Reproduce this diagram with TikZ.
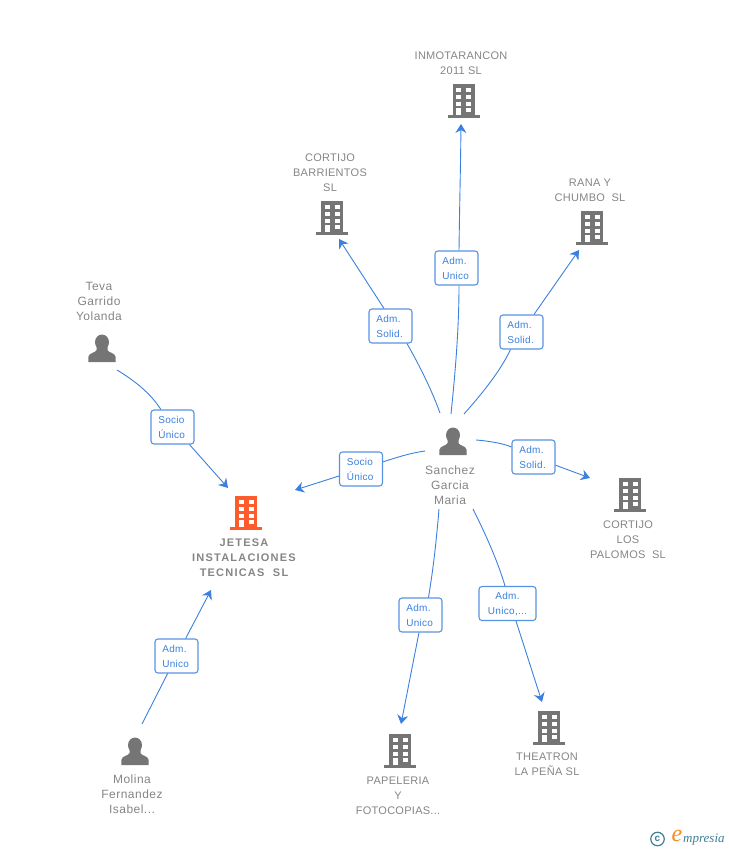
\documentclass[tikz,border=0pt]{standalone}
\usepackage{fontspec}
\setmainfont{Liberation Sans}
\newfontfamily\logofont{Liberation Serif}
\usepackage{tikz}
\usetikzlibrary{arrows.meta}
\definecolor{linkblue}{HTML}{3B80DE}
\definecolor{labelgray}{HTML}{858585}
\definecolor{iconorange}{HTML}{FF5C2E}
\definecolor{icongray}{HTML}{757575}
\definecolor{logoteal}{HTML}{3F7F96}
\definecolor{logoorange}{HTML}{F58A1F}
\tikzset{
    building/.pic = {
        \fill[pic actions] (-11,0) rectangle (11,32);
        \fill[pic actions] (-16,31) rectangle (16,34);
        \foreach \wy in {4.3,11,17.7} {
            \fill[white] (-7.5,\wy) rectangle (-2.5,\wy+3.9);
            \fill[white] (2.5,\wy) rectangle (7.5,\wy+3.9);
        }
        \fill[white] (-7.5,24.3) rectangle (-2.5,31);
        \fill[white] (2.5,24.3) rectangle (7.5,28.2);
    },
    person/.pic = {
        \fill[pic actions] (0,7.2) ellipse (7 and 7.7);
        \fill[pic actions] (-5.5,11) -- (-5.5,15) .. controls (-6.5,18) and (-13,17.5) .. (-13.7,22)
            -- (-13.7,27) -- (13.7,27) -- (13.7,22) .. controls (13,17.5) and (6.5,18) .. (5.5,15)
            -- (5.5,11) -- cycle;
    }
}
\begin{document}
\begin{tikzpicture}[x=1pt, y=-1pt,
        company/.style = {align=center, inner sep=0pt, text=labelgray,
                          font=\addfontfeature{LetterSpace=2.5}\fontsize{11}{15}\selectfont},
        mainco/.style = {company, font=\bfseries\addfontfeature{LetterSpace=11}\fontsize{11}{15}\selectfont},
        people/.style = {align=center, inner sep=0pt, text=labelgray,
                         font=\addfontfeature{LetterSpace=4}\fontsize{12}{15}\selectfont},
        role/.style = {shape=rectangle, rounded corners=3pt, draw=linkblue!85!white, line width=1.1pt,
                       fill=white, align=left, text width=28.4pt, inner sep=0pt, text=linkblue,
                       minimum width=43pt, minimum height=34pt, text height=8.7pt,
                       font=\addfontfeature{LetterSpace=3}\fontsize{10}{15}\selectfont},
        link/.style = {draw=linkblue, line width=0.9pt},
        linkto/.style = {link, -{Stealth[length=9pt, width=11pt, inset=3pt]}}]
    \useasboundingbox (0,0) rectangle (728,850);

    % companies
    \pic[fill=icongray] at (463.5,84) {building};
    \pic[fill=icongray] at (332,201) {building};
    \pic[fill=icongray] at (592,211) {building};
    \pic[fill=icongray] at (630,478) {building};
    \pic[fill=icongray] at (549,711) {building};
    \pic[fill=icongray] at (400,734) {building};
    \pic[fill=iconorange] at (246,496) {building};

    % people
    \pic[fill=icongray] at (102,335) {person};
    \pic[fill=icongray] at (453,428) {person};
    \pic[fill=icongray] at (135,738) {person};

    \node[company] (inmotarancon) at (461,63) {INMOTARANCON\\2011 SL};
    \node[company] (barrientos) at (330,172.5) {CORTIJO\\BARRIENTOS\\SL};
    \node[company] (rana) at (590,190) {RANA Y\\CHUMBO\ \ SL};
    \node[company] (palomos) at (628,539.5) {CORTIJO\\LOS\\PALOMOS\ \ SL};
    \node[company] (theatron) at (547,764) {THEATRON\\LA PEÑA SL};
    \node[company] (papeleria) at (398,795.5) {PAPELERIA\\Y\\FOTOCOPIAS...};
    \node[mainco] (jetesa) at (244,557.5) {JETESA\\INSTALACIONES\\TECNICAS\ \ SL};
    \node[people] (teva) at (99,301) {Teva\\Garrido\\Yolanda};
    \node[people] (sanchez) at (450,485) {Sanchez\\Garcia\\Maria};
    \node[people] (molina) at (132,794) {Molina\\Fernandez\\Isabel...};

    \node[role] (roleteva) at (172.5,427) {Socio\\Único};
    \node[role] (rolejetesa) at (361,469) {Socio\\Único};
    \node[role] (roleinmo) at (456.5,268) {Adm.\\Unico};
    \node[role] (rolebarr) at (390.5,326) {Adm.\\Solid.};
    \node[role] (rolerana) at (521.5,332) {Adm.\\Solid.};
    \node[role] (rolepalo) at (533.5,457) {Adm.\\Solid.};
    \node[role] (rolepape) at (420.5,615) {Adm.\\Unico};
    \node[role, minimum width=57pt, text width=41pt, align=center] (rolethea) at (507.5,603.5) {Adm.\\Unico,...};
    \node[role] (rolemoli) at (176.5,656) {Adm.\\Unico};

    % free ends of the links
    \coordinate (fromteva) at (117,370);
    \coordinate (tojetesaa) at (228,488);
    \coordinate (fromsana) at (425,451);
    \coordinate (tojetesab) at (295,490);
    \coordinate (fromsanb) at (451,414);
    \coordinate (toinmo) at (461,124);
    \coordinate (fromsanc) at (440,413);
    \coordinate (tobarr) at (339,239);
    \coordinate (fromsand) at (464,414);
    \coordinate (torana) at (579,250);
    \coordinate (fromsane) at (476,440);
    \coordinate (topalo) at (590,478);
    \coordinate (fromsanf) at (439,509);
    \coordinate (topape) at (401,724);
    \coordinate (fromsang) at (473,509);
    \coordinate (tothea) at (542,702);
    \coordinate (frommoli) at (142,724);
    \coordinate (tojetesac) at (211,590);

    \draw[link] (fromteva) .. controls (140,384) and (152,396) .. (roleteva);
    \draw[linkto] ([xshift=17pt]roleteva.south) -- (tojetesaa);
    \draw[link] (fromsana) .. controls (410,453) and (395,458) .. (rolejetesa);
    \draw[linkto] (rolejetesa) -- (tojetesab);
    \draw[link] (fromsanb) .. controls (455,375) and (459,330) .. ([xshift=2.5pt]roleinmo.south);
    \draw[linkto] ([xshift=2.5pt]roleinmo.north) .. controls (459.5,210) and (460.5,170) .. (toinmo);
    \draw[link] (fromsanc) .. controls (431,388) and (418,363) .. ([xshift=16.5pt]rolebarr.south);
    \draw[linkto] ([xshift=-6.5pt]rolebarr.north) -- (tobarr);
    \draw[link] (fromsand) .. controls (480,396) and (500,372) .. ([xshift=-11pt]rolerana.south);
    \draw[linkto] ([xshift=12.5pt]rolerana.north) -- (torana);
    \draw[link] (fromsane) .. controls (490,441) and (505,444) .. (rolepalo);
    \draw[linkto] (rolepalo) -- (topalo);
    \draw[link] (fromsanf) .. controls (436,545) and (433,570) .. ([xshift=8pt]rolepape.north);
    \draw[linkto] ([xshift=-1.5pt]rolepape.south) -- (topape);
    \draw[link] (fromsang) .. controls (486,535) and (498,562) .. ([xshift=-2.5pt]rolethea.north);
    \draw[linkto] ([xshift=8.5pt]rolethea.south) -- (tothea);
    \draw[link] (frommoli) -- (rolemoli);
    \draw[linkto] (rolemoli) -- (tojetesac);

    % mark in the corner
    \node[circle, draw=logoteal, line width=1.2pt, inner sep=0pt, minimum size=13.5pt, text=logoteal, font=\bfseries\fontsize{10}{10}\selectfont] (logoc) at (657.5,839) {c};
    \node[inner sep=0pt, text=logoorange, font=\logofont\itshape\fontsize{24}{24}\selectfont] (logoe) at (677,836) {e};
    \node[inner sep=0pt, anchor=west, text=logoteal, font=\logofont\itshape\fontsize{13}{13}\selectfont] (logot) at (683,839.5) {mpresia};
\end{tikzpicture}
\end{document}
